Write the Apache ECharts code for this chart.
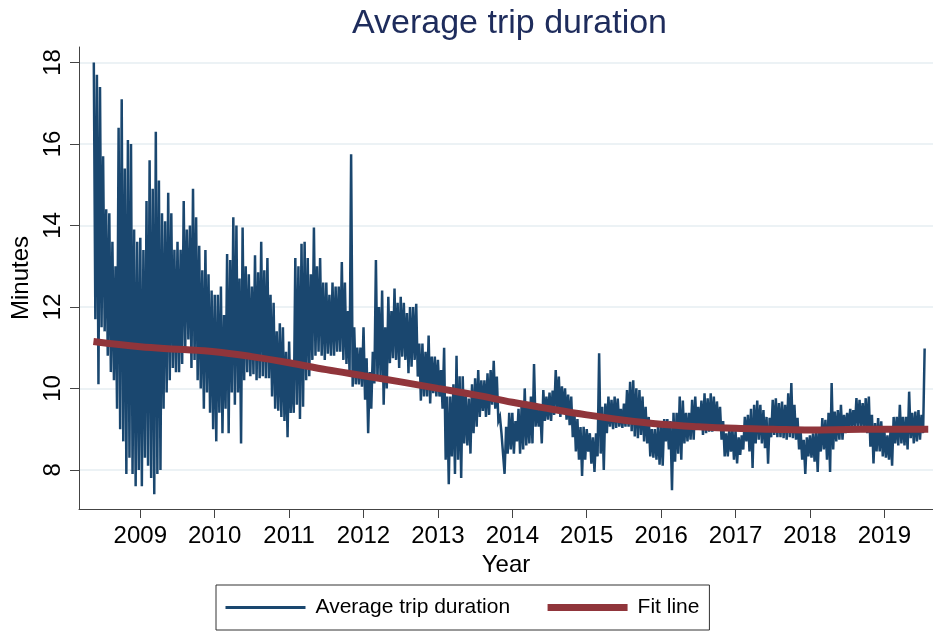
<!DOCTYPE html>
<html>
<head>
<meta charset="utf-8">
<title>Average trip duration</title>
<script src="https://cdn.jsdelivr.net/npm/echarts@6/dist/echarts.min.js"></script>
<style>
    html, body { margin: 0; padding: 0; background: #fff; }
    #main { width: 933px; height: 631px; }
</style>
</head>
<body>
<div id="main"></div>
<script>
// half-month highs / lows of the daily average
// 2008 starts in the second half of May (half-month index 9)
var hi2008 = [18.0, 17.7, 17.4, 15.7, 14.4, 14.3, 13.6, 13.0, 16.4, 17.1, 15.4, 16.1, 16.0, 13.9, 13.6];
var lo2008 = [11.7, 10.1, 11.5, 11.4, 10.8, 10.4, 10.2, 9.5, 9.0, 8.7, 7.9, 8.3, 7.9, 7.6, 8.0];
var hi2009 = [13.7, 13.4, 14.6, 15.6, 14.9, 16.3, 15.1, 14.3, 14.1, 14.8, 14.3, 13.4, 13.6, 13.4, 14.6, 13.9, 14.0, 14.9, 14.2, 13.5, 12.9, 13.4, 12.8, 12.4];
var lo2009 = [7.6, 8.3, 8.1, 7.8, 7.4, 7.9, 8.0, 9.5, 9.9, 10.2, 10.5, 10.4, 10.4, 10.6, 11.0, 11.2, 10.5, 10.7, 10.2, 10.0, 9.5, 9.9, 9.4, 9.0];
var hi2010 = [12.3, 12.3, 12.5, 11.8, 13.3, 13.15, 14.2, 14.0, 12.7, 13.95, 13.0, 12.8, 12.5, 13.27, 12.85, 13.6, 12.9, 13.2, 12.3, 12.1, 11.4, 11.6, 11.5, 10.9];
var lo2010 = [8.7, 9.4, 8.9, 9.5, 8.9, 9.9, 9.6, 9.9, 8.65, 10.2, 10.4, 10.3, 10.35, 10.2, 10.25, 10.3, 10.25, 10.25, 9.8, 9.5, 9.45, 9.3, 9.2, 8.8];
var hi2011 = [11.15, 10.6, 13.2, 13.0, 13.55, 13.6, 13.2, 12.8, 13.95, 13.0, 13.2, 12.6, 12.6, 12.3, 12.6, 12.5, 12.5, 13.1, 12.6, 11.9, 15.75, 11.5, 11.0, 11.0];
var lo2011 = [9.4, 9.4, 9.6, 9.25, 9.55, 10.2, 10.3, 10.7, 10.8, 10.9, 10.8, 10.7, 10.85, 10.8, 10.8, 10.9, 10.9, 10.7, 10.6, 10.37, 10.04, 10.1, 10.1, 10.04];
var hi2012 = [11.5, 10.74, 10.4, 10.9, 13.15, 12.0, 12.4, 11.5, 12.25, 11.9, 12.45, 12.1, 12.25, 12.1, 11.85, 12.0, 12.0, 12.08, 11.1, 11.1, 10.9, 11.3, 10.78, 10.78];
var lo2012 = [9.72, 8.9, 9.5, 10.12, 10.2, 10.3, 9.6, 10.0, 10.62, 10.74, 10.7, 10.5, 10.78, 10.7, 10.37, 10.53, 10.7, 10.29, 9.7, 9.8, 9.8, 9.63, 9.88, 9.8];
var hi2013 = [10.7, 10.45, 11.0, 9.8, 9.8, 10.1, 10.8, 10.3, 10.3, 9.85, 9.75, 10.1, 10.25, 10.45, 10.2, 10.2, 10.37, 10.45, 10.68, 10.29, 9.31, 8.9, 9.06, 9.4];
var lo2013 = [9.8, 9.5, 8.25, 7.65, 8.33, 7.9, 8.25, 7.8, 8.65, 8.6, 8.4, 8.9, 9.06, 9.3, 9.45, 9.3, 9.35, 9.6, 9.5, 9.2, 8.9, 7.9, 8.4, 8.5];
var hi2014 = [9.4, 9.2, 9.5, 9.6, 10.0, 9.6, 9.8, 10.6, 9.6, 9.5, 9.96, 9.8, 9.9, 9.95, 10.45, 10.29, 10.05, 10.0, 9.85, 9.8, 9.45, 9.25, 9.05, 9.06];
var lo2014 = [8.4, 8.7, 8.4, 8.5, 8.6, 8.65, 8.65, 9.06, 9.06, 8.65, 9.2, 9.23, 9.2, 9.35, 9.47, 9.3, 9.4, 9.23, 9.1, 8.8, 8.45, 8.25, 7.85, 8.25];
var hi2015 = [9.0, 8.9, 8.8, 8.9, 10.86, 9.55, 9.63, 9.8, 9.72, 9.8, 9.75, 9.5, 9.63, 9.96, 10.16, 10.2, 10.0, 9.96, 9.8, 9.55, 9.3, 9.0, 9.0, 9.05];
var lo2015 = [8.45, 8.15, 7.95, 8.33, 8.4, 8.0, 8.9, 9.06, 9.0, 9.03, 9.06, 9.03, 9.06, 9.06, 8.95, 8.82, 8.78, 8.86, 8.7, 8.65, 8.33, 8.3, 8.25, 8.13];
var hi2016 = [9.2, 9.25, 9.25, 9.2, 9.4, 9.4, 9.8, 9.7, 9.4, 9.4, 9.72, 9.8, 9.55, 9.7, 9.88, 9.76, 9.88, 9.8, 9.68, 9.55, 9.2, 8.9, 9.0, 9.0];
var lo2016 = [8.1, 8.7, 8.5, 7.5, 8.2, 8.4, 8.25, 8.65, 8.7, 8.74, 8.74, 8.98, 8.98, 8.86, 8.9, 8.94, 8.94, 8.98, 9.0, 8.74, 8.33, 8.33, 8.45, 8.25];
var hi2017 = [8.96, 8.8, 8.85, 9.3, 9.35, 9.5, 9.6, 9.7, 9.6, 9.47, 9.3, 9.28, 9.72, 9.76, 9.64, 9.68, 9.6, 9.88, 10.13, 9.6, 9.28, 8.96, 8.74, 8.8];
var lo2017 = [8.16, 8.37, 8.5, 8.7, 8.45, 8.05, 8.65, 8.74, 8.65, 8.53, 8.15, 8.8, 8.86, 8.8, 8.8, 8.78, 8.74, 8.8, 8.78, 8.74, 8.5, 8.25, 7.9, 8.33];
var hi2018 = [8.85, 8.9, 8.98, 9.05, 9.27, 9.23, 9.4, 10.13, 9.43, 9.47, 9.6, 9.35, 9.4, 9.5, 9.47, 9.76, 9.72, 9.64, 9.76, 9.8, 9.35, 9.15, 9.27, 9.19];
var lo2018 = [8.3, 8.2, 7.95, 8.45, 8.5, 8.25, 7.95, 8.5, 8.7, 8.74, 8.74, 8.9, 8.98, 9.03, 9.03, 9.03, 9.03, 8.98, 8.9, 8.57, 8.16, 8.45, 8.45, 8.33];
var hi2019 = [8.98, 8.85, 8.98, 9.3, 9.3, 9.6, 9.3, 9.3, 9.92, 9.4, 9.43, 9.47, 9.35, 10.98];
var lo2019 = [8.3, 8.25, 8.1, 8.65, 8.6, 8.65, 8.6, 8.5, 8.78, 8.65, 8.7, 8.74, 8.9];

var tripYears = [2008, 2009, 2010, 2011, 2012, 2013, 2014, 2015, 2016, 2017, 2018, 2019];
var tripHigh = [hi2008, hi2009, hi2010, hi2011, hi2012, hi2013, hi2014, hi2015, hi2016, hi2017, hi2018, hi2019];
var tripLow = [lo2008, lo2009, lo2010, lo2011, lo2012, lo2013, lo2014, lo2015, lo2016, lo2017, lo2018, lo2019];

// fit line
var fitYear = [2008.37, 2009, 2009.5, 2010, 2010.5, 2011, 2011.5, 2012, 2012.5, 2013, 2013.5, 2014, 2014.5, 2015, 2015.5, 2016, 2016.5, 2017, 2017.5, 2018, 2018.5, 2019, 2019.59];
var fitValue = [11.15, 11.02, 10.96, 10.9, 10.78, 10.63, 10.46, 10.31, 10.16, 10.0, 9.84, 9.66, 9.5, 9.35, 9.22, 9.12, 9.06, 9.02, 9.0, 8.98, 8.99, 9.0, 9.0];

var yearTicks = [2009, 2010, 2011, 2012, 2013, 2014, 2015, 2016, 2017, 2018, 2019];
var minuteTicks = [8, 10, 12, 14, 16, 18];

function buildTrips() {
    var out = [];
    for (var n = 0; n < tripYears.length; n++) {
        var start = n === 0 ? 9 : 0;  // first year begins mid may
        var hi = tripHigh[n], lo = tripLow[n];
        for (var i = 0; i < hi.length; i++) {
            var t = tripYears[n] + (start + i) / 24;
            out.push([t, hi[i]]);
            if (i < lo.length) out.push([t + 1 / 48, lo[i]]);
        }
    }
    return out;
}

var fitData = fitYear.map(function (y, i) { return [y, fitValue[i]]; });

var font = "'Liberation Sans', Arial, sans-serif";
var axisColor = '#444';

var myChart = echarts.init(document.getElementById('main'));
myChart.setOption({
    animation: false,
    backgroundColor: '#fff',
    textStyle: { fontFamily: font },
    title: {
        text: 'Average trip duration',
        left: 347,
        top: 2,
        textStyle: { fontFamily: font, fontSize: 34, fontWeight: 'normal', color: '#1e2c5c' }
    },
    legend: {
        left: 216,
        top: 585,
        padding: [12, 10, 12, 8],
        itemWidth: 80,
        itemHeight: 20,
        itemGap: 34,
        borderColor: '#333',
        borderWidth: 1,
        backgroundColor: '#fff',
        itemStyle: { opacity: 0 },  // hide the circle symbol, keep the line
        textStyle: { fontSize: 21, color: '#000', padding: [0, 0, 0, 5] },
        data: [
            { name: 'Average trip duration', lineStyle: { width: 3 } },
            { name: 'Fit line', lineStyle: { width: 7 } }
        ]
    },
    grid: { left: 79, right: 0, top: 47, bottom: 122, containLabel: false },
    xAxis: {
        type: 'value',
        min: 2008.176,
        max: 2019.654,
        name: 'Year',
        nameLocation: 'middle',
        nameGap: 33,
        nameTextStyle: { fontSize: 24, color: '#000' },
        axisLine: { lineStyle: { color: axisColor, width: 1 } },
        axisTick: { length: 9, lineStyle: { color: axisColor }, customValues: yearTicks },
        axisLabel: {
            fontSize: 24, color: '#000', margin: 15, customValues: yearTicks,
            formatter: function (v) { return String(v); }
        },
        splitLine: { show: false }
    },
    yAxis: {
        type: 'value',
        min: 7.04,
        max: 18.38,
        name: 'Minutes',
        nameLocation: 'middle',
        nameRotate: 90,
        nameGap: 37,
        nameTextStyle: { fontSize: 24, color: '#000' },
        axisLine: { show: true, lineStyle: { color: axisColor, width: 1 } },
        axisTick: { show: true, length: 9, lineStyle: { color: axisColor }, customValues: minuteTicks },
        axisLabel: { fontSize: 24, color: '#000', rotate: 90, margin: 14, customValues: minuteTicks },
        splitLine: { show: true, lineStyle: { color: '#e6eef2', width: 1.5 } }
    },
    series: [
        {
            name: 'Average trip duration',
            type: 'line',
            symbol: 'none',
            showSymbol: false,
            sampling: null,
            z: 2,
            itemStyle: { color: '#1a476f' },
            lineStyle: { color: '#1a476f', width: 2.5, join: 'miter' },
            data: buildTrips()
        },
        {
            name: 'Fit line',
            type: 'line',
            symbol: 'none',
            showSymbol: false,
            smooth: 0.4,
            z: 3,
            itemStyle: { color: '#90353b' },
            lineStyle: { color: '#90353b', width: 7 },
            data: fitData
        }
    ]
});
window.onresize = myChart.resize;
</script>
</body>
</html>
